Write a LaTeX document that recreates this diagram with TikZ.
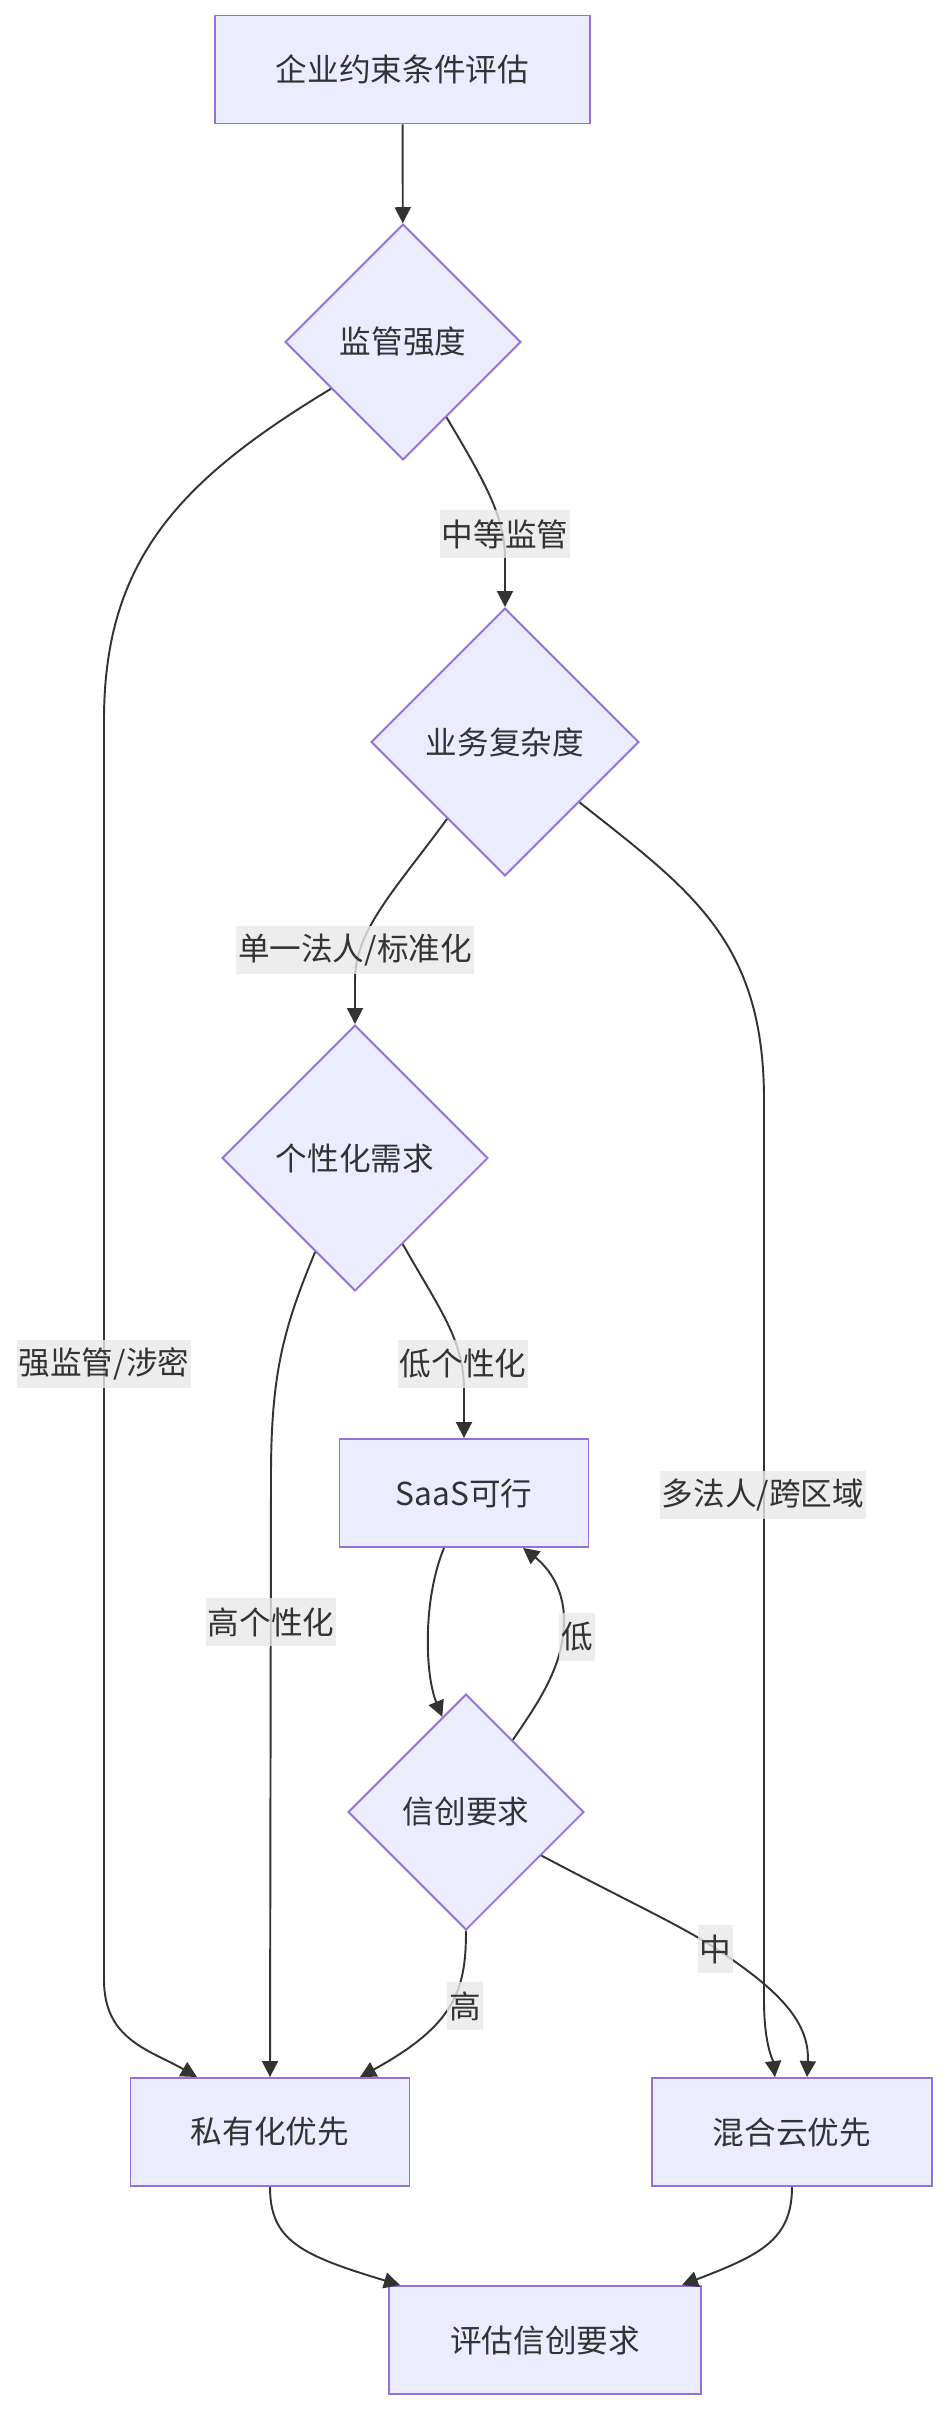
\documentclass[tikz,border=0pt]{standalone}
\usepackage{fontspec}
\setmainfont{Noto Sans CJK SC}
\usepackage{xcolor}
\usepackage{tikz}
\usetikzlibrary{shapes.geometric,arrows.meta}
\definecolor{ink}{HTML}{333333}
\definecolor{lilac}{HTML}{ECECFF}
\definecolor{mviolet}{HTML}{9370DB}
\definecolor{lblgray}{HTML}{E8E8E8}

\begin{document}
\begin{tikzpicture}[scale=1,every node/.style={font=\fontsize{18pt}{22pt}\selectfont,text=ink},
   proc/.style={draw=mviolet,fill=lilac,line width=1.1pt,minimum height=2.16cm},
   dec/.style={draw=mviolet,fill=lilac,line width=1.1pt,diamond,aspect=1,inner sep=0pt},
   flow/.style={draw=ink,line width=1.1pt,-{Triangle[length=0.32cm,width=0.32cm]}},
   lbl/.style={fill=lblgray,fill opacity=0.8,text opacity=1,inner xsep=1pt,inner ysep=0pt,minimum height=0.96cm}]
\useasboundingbox (0,0) rectangle (18.94,-48.24);
% process boxes
\node[proc,minimum width=7.50cm] (start) at (8.05,-1.39) {企业约束条件评估};
\node[proc,minimum width=4.98cm] (saas) at (9.28,-29.86) {SaaS可行};
\node[proc,minimum width=5.58cm] (priv) at (5.40,-42.64) {私有化优先};
\node[proc,minimum width=5.60cm] (hyb) at (15.84,-42.64) {混合云优先};
\node[proc,minimum width=6.24cm] (eval) at (10.90,-46.80) {评估信创要求};
% decision nodes
\node[dec,minimum width=4.72cm,minimum height=4.72cm] (reg) at (8.06,-6.84) {监管强度};
\node[dec,minimum width=5.36cm,minimum height=5.36cm] (biz) at (10.10,-14.84) {业务复杂度};
\node[dec,minimum width=5.32cm,minimum height=5.32cm] (cust) at (7.10,-23.16) {个性化需求};
\node[dec,minimum width=4.72cm,minimum height=4.72cm] (xc) at (9.32,-36.24) {信创要求};
% connectors
\draw[flow] (start) -- (reg);
\draw[flow] (reg.213) .. controls (3.6,-9.6) and (2.08,-11.2) .. (2.08,-14.4) -- (2.08,-39.6) .. controls (2.08,-40.8) and (3.0,-41.0) .. ([xshift=-1.46cm]priv.north);
\draw[flow] (reg.300) .. controls (9.8,-9.8) and (10.10,-10.4) .. (10.10,-11.2) -- (biz.north);
\draw[flow] (biz.233) .. controls (7.9,-17.8) and (7.10,-18.6) .. (7.10,-19.6) -- (cust.north);
\draw[flow] (biz.321) .. controls (13.8,-17.8) and (15.28,-18.8) .. (15.28,-22.0) -- (15.28,-40.0) .. controls (15.28,-40.9) and (15.46,-41.2) .. ([xshift=-0.34cm]hyb.north);
\draw[flow] (cust.247) .. controls (5.7,-26.5) and (5.42,-27.4) .. (5.42,-29.5) -- (priv.north);
\draw[flow] (cust.299) .. controls (8.8,-26.2) and (9.28,-26.8) .. (9.28,-27.8) -- (saas.north);
\draw[flow] ([xshift=-0.40cm]saas.south) .. controls (8.45,-32.0) and (8.5,-33.5) .. (xc.104);
\draw[flow] (xc.57) .. controls (10.8,-34.0) and (11.28,-33.3) .. (11.28,-32.4) .. controls (11.28,-31.7) and (10.9,-31.3) .. ([xshift=1.18cm]saas.south);
\draw[flow] (xc.south) .. controls (9.32,-39.8) and (9.1,-40.5) .. ([xshift=1.80cm]priv.north);
\draw[flow] (xc.330) .. controls (12.5,-38.0) and (13.6,-38.5) .. (14.3,-38.96) .. controls (15.5,-39.75) and (16.2,-40.4) .. ([xshift=0.30cm]hyb.north);
\draw[flow] (priv.south) .. controls (5.40,-44.8) and (6.0,-45.1) .. ([xshift=-2.90cm]eval.north);
\draw[flow] (hyb.south) .. controls (15.84,-44.8) and (15.2,-45.1) .. ([xshift=2.74cm]eval.north);
% edge labels
\node[lbl] (l1) at (10.10,-10.68) {中等监管};
\node[lbl] (l2) at (7.10,-19.00) {单一法人/标准化};
\node[lbl] (l3) at (2.08,-27.28) {强监管/涉密};
\node[lbl] (l4) at (9.26,-27.28) {低个性化};
\node[lbl] (l5) at (5.42,-32.44) {高个性化};
\node[lbl] (l6) at (15.26,-29.90) {多法人/跨区域};
\node[lbl] (l7) at (11.54,-32.74) {低};
\node[lbl] (l8) at (14.31,-38.98) {中};
\node[lbl] (l9) at (9.30,-40.12) {高};
\end{tikzpicture}
\end{document}
